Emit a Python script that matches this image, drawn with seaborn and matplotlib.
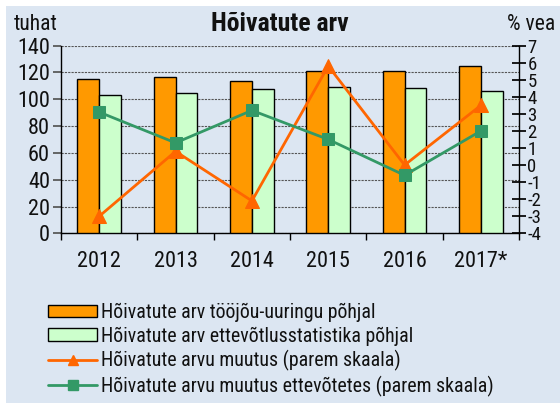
import numpy as np
import pandas as pd
import matplotlib.pyplot as plt
import matplotlib.patches as mpatches
import seaborn as sns

years = ['2012', '2013', '2014', '2015', '2016', '2017*']
toojou = [115.3, 116.3, 113.8, 120.8, 120.8, 124.5]
ettevotlus = [102.9, 104.4, 107.8, 109.3, 108.6, 106.1]
muutus = [-3.0, 0.8, -2.1, 5.8, 0.0, 3.5]
muutus_ettev = [3.1, 1.3, 3.2, 1.5, -0.6, 2.0]

labels = ['Hõivatute arv tööjõu-uuringu põhjal',
          'Hõivatute arv ettevõtlusstatistika põhjal',
          'Hõivatute arvu muutus (parem skaala)',
          'Hõivatute arvu muutus ettevõtetes (parem skaala)']

bg = '#dce6f2'
sns.set_theme(style='white')
plt.rcParams['font.family'] = ['Roboto Condensed', 'DejaVu Sans']
plt.rcParams['text.color'] = '#111111'
plt.rcParams['axes.unicode_minus'] = False

df = pd.DataFrame({
    'year': years * 2,
    'value': toojou + ettevotlus,
    'series': [labels[0]] * 6 + [labels[1]] * 6,
})

fig = plt.figure(figsize=(5.6, 4.03), dpi=100)
fig.patch.set_facecolor('white')
fig.patches.append(mpatches.Rectangle((6 / 560, 0), 1, 1 - 6 / 403,
                                      transform=fig.transFigure,
                                      facecolor=bg, edgecolor='none', zorder=-10))

ax = fig.add_axes([0.109, 0.421, 0.818, 0.466])
ax.set_facecolor(bg)
sns.barplot(data=df, x='year', y='value', hue='series', ax=ax,
            palette=['#ff9900', '#ccffcc'], saturation=1, width=0.57, gap=0,
            edgecolor='black', linewidth=1, legend=False, zorder=3)
ax.set_xlim(-0.5, len(years) - 0.5)
ax.set_ylim(0, 140)
ax.set_yticks(range(0, 141, 20))
ax.yaxis.grid(True, linestyle=(0, (2, 1)), color='#555555', linewidth=0.8, zorder=0)
ax.set_axisbelow(True)
ax.set_xlabel('')
ax.set_ylabel('')
ax.set_xticks(np.arange(len(years) + 1) - 0.5, minor=True)
ax.tick_params(axis='x', which='major', length=0, labelsize=16, pad=13, labelcolor='#111111')
ax.tick_params(axis='x', which='minor', length=5, direction='out', color='black', bottom=True)
ax.tick_params(axis='y', length=6, direction='out', color='#555555', labelsize=16, pad=2,
               left=True, labelcolor='#111111')
for s in ['top', 'right']:
    ax.spines[s].set_visible(False)
for s in ['left', 'bottom']:
    ax.spines[s].set_color('black')
    ax.spines[s].set_linewidth(1)

ax2 = ax.twinx()
x = np.arange(len(years))
sns.lineplot(x=x, y=muutus, ax=ax2, color='#ff6600', marker='^', markersize=10,
             markeredgecolor='#ff6600', linewidth=2, zorder=4)
sns.lineplot(x=x, y=muutus_ettev, ax=ax2, color='#339966', marker='s', markersize=8.5,
             markeredgecolor='#339966', linewidth=2, zorder=5)
ax2.set_ylim(-4, 7)
ax2.set_yticks(range(-4, 8))
ax2.tick_params(axis='y', direction='inout', length=10, color='black', labelsize=13.5, pad=1,
                right=True, labelcolor='#111111')
for s in ['top', 'left', 'bottom']:
    ax2.spines[s].set_visible(False)
ax2.spines['right'].set_color('black')
ax2.spines['right'].set_linewidth(1)

fig.text(0.5, 0.94, 'Hõivatute arv', ha='center', va='center', fontsize=18.5, fontweight='bold')
fig.text(0.025, 0.94, 'tuhat', ha='left', va='center', fontsize=15.5)
fig.text(0.992, 0.94, '% vea', ha='right', va='center', fontsize=15.5)

handles = [
    mpatches.Patch(facecolor='#ff9900', edgecolor='black', linewidth=1),
    mpatches.Patch(facecolor='#ccffcc', edgecolor='black', linewidth=1),
    plt.Line2D([], [], color='#ff6600', marker='^', markersize=7, linewidth=2),
    plt.Line2D([], [], color='#339966', marker='s', markersize=7, linewidth=2),
]
fig.legend(handles, labels, loc='upper left', bbox_to_anchor=(0.072, 0.268),
           frameon=False, fontsize=14.3, handlelength=2.45, handleheight=0.6,
           handletextpad=0.2, labelspacing=0.22, borderaxespad=0)

fig.savefig('out.png', dpi=100)
